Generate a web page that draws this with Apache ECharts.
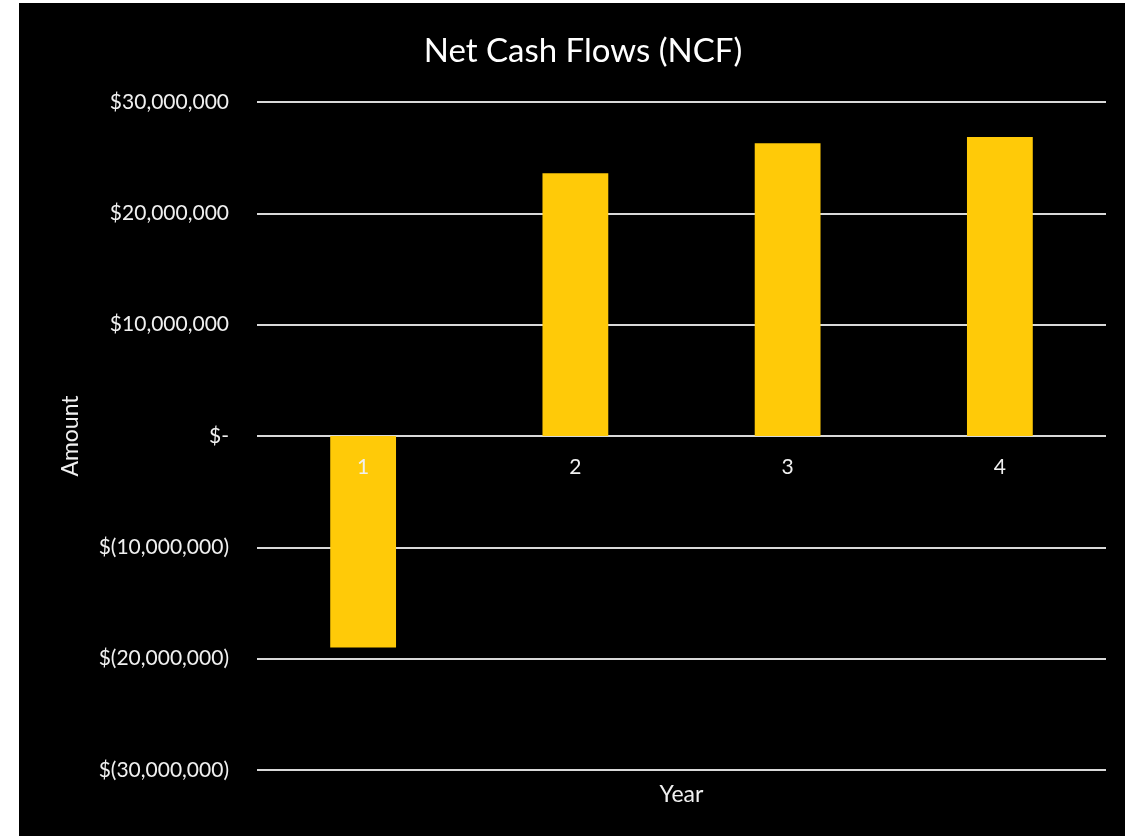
<!DOCTYPE html>
<html>
<head>
<meta charset="utf-8">
<script src="https://cdn.jsdelivr.net/npm/echarts@6/dist/echarts.min.js"></script>
<style>
html,body{margin:0;padding:0;background:#fff;width:1125px;height:836px;overflow:hidden;}
#c{position:absolute;left:19px;top:3px;width:1106px;height:833px;background:#000;}
</style>
</head>
<body>
<div id="c"></div>
<script>
const categories = ['1', '2', '3', '4'];
const ncfValues = [-19000000, 23600000, 26300000, 26850000];
const yTicks = { min: -30000000, max: 30000000, interval: 10000000 };

function fmt(v) {
  if (v === 0) return '$-';
  const s = Math.abs(v).toLocaleString('en-US');
  return v < 0 ? '$(' + s + ')' : '$' + s;
}

const chart = echarts.init(document.getElementById('c'));
const font = 'Lato, "Open Sans", sans-serif';
const txt = '#f0f0f0';
chart.setOption({
  backgroundColor: '#000',
  animation: false,
  title: {
    text: 'Net Cash Flows (NCF)',
    left: 559, top: 27, textAlign: 'center',
    textStyle: { color: '#fff', fontSize: 33, fontWeight: 'normal', fontFamily: font }
  },
  grid: { left: 238, right: 19, top: 99, bottom: 66 },
  xAxis: {
    type: 'category',
    data: categories,
    axisLine: { show: false },
    axisTick: { show: false },
    axisLabel: { show: false }
  },
  yAxis: {
    type: 'value',
    min: yTicks.min, max: yTicks.max, interval: yTicks.interval,
    name: 'Amount',
    nameLocation: 'middle',
    nameGap: 175,
    nameTextStyle: { color: txt, fontSize: 23, fontFamily: font },
    axisLine: { show: false },
    axisTick: { show: false },
    splitLine: { lineStyle: { color: '#d9d9d9', width: 2 } },
    axisLabel: { color: txt, fontSize: 21, margin: 28, fontFamily: font, formatter: fmt }
  },
  series: [{
    type: 'bar',
    data: ncfValues,
    barWidth: '31%',
    itemStyle: { color: '#FFCA08' },
    z: 2
  }]
});

const gfx = [];
categories.forEach(function (c) {
  const p = chart.convertToPixel({ xAxisIndex: 0, yAxisIndex: 0 }, [c, 0]);
  gfx.push({
    type: 'text', x: p[0], y: p[1] + 31, z: 100,
    style: { text: c, fill: txt, fontSize: 21, fontFamily: font, align: 'center', verticalAlign: 'middle' }
  });
});
const l = chart.convertToPixel({ xAxisIndex: 0, yAxisIndex: 0 }, [categories[0], yTicks.min]);
const r = chart.convertToPixel({ xAxisIndex: 0, yAxisIndex: 0 }, [categories[categories.length - 1], yTicks.min]);
gfx.push({
  type: 'text', x: (l[0] + r[0]) / 2, y: l[1] + 25, z: 100,
  style: { text: 'Year', fill: txt, fontSize: 23, fontFamily: font, align: 'center', verticalAlign: 'middle' }
});
chart.setOption({ graphic: gfx });
</script>
</body>
</html>
